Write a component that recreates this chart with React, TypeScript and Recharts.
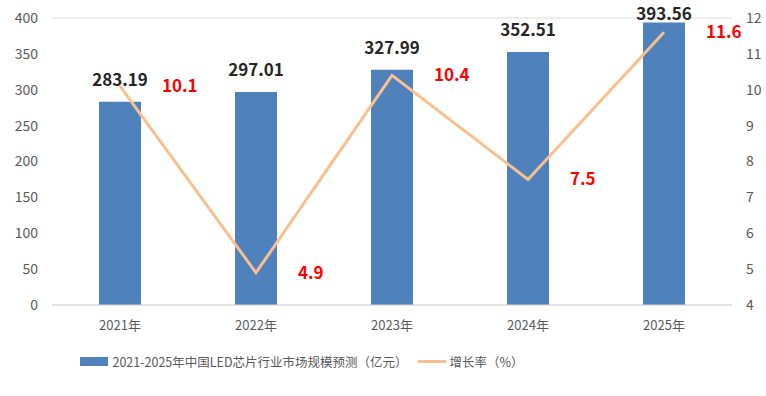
import React from 'react';
import { ComposedChart, Bar, Line, XAxis, YAxis, CartesianGrid, Legend, LabelList } from 'recharts';

const categories = ['2021年', '2022年', '2023年', '2024年', '2025年'];
const marketSize = [283.19, 297.01, 327.99, 352.51, 393.56];
const growthRate = [10.1, 4.9, 10.4, 7.5, 11.6];
const leftTicks = [0, 50, 100, 150, 200, 250, 300, 350, 400];
const rightTicks = [4, 5, 6, 7, 8, 9, 10, 11, 12];
const barName = '2021-2025年中国LED芯片行业市场规模预测（亿元）';
const lineName = '增长率（%）';

const data = categories.map((c, i) => ({ year: c, size: marketSize[i], rate: growthRate[i] }));

const FONT = '"Noto Sans CJK SC", "Liberation Sans", sans-serif';
const BAR_COLOR = '#4F81BD';
const LINE_COLOR = '#F9BF8F';

const RateLabel = (props: any) => {
  const { x, y, value } = props;
  return (
    <text x={x + 42} y={y} dy={6} textAnchor="start" fill="#FF0000" fontWeight="bold" fontSize={17} fontFamily={FONT}>
      {value}
    </text>
  );
};

const SizeLabel = (props: any) => {
  const { x, y, width, value } = props;
  return (
    <text x={x + width / 2} y={Math.max(y - 16, 20)} textAnchor="middle" fill="#262626" fontWeight="bold" fontSize={17} fontFamily={FONT}>
      {value.toFixed(2)}
    </text>
  );
};

const LegendContent = () => (
  <div style={{ display: 'flex', justifyContent: 'center', alignItems: 'center', fontFamily: FONT, fontSize: 12.5, color: '#595959' }}>
    <span style={{ display: 'inline-block', width: 28, height: 9, background: BAR_COLOR, marginRight: 4 }} />
    <span>{barName}</span>
    <span style={{ display: 'inline-block', width: 28, height: 3, background: LINE_COLOR, marginLeft: 10, marginRight: 4 }} />
    <span>{lineName}</span>
  </div>
);

export default function App() {
  return (
    <div style={{ position: 'absolute', left: 0, top: 0, width: 766, height: 396, background: '#fff' }}>
      <ComposedChart width={766} height={396} data={data} margin={{ top: 18, right: 0, bottom: 42, left: 0 }}>
        <CartesianGrid vertical={false} stroke="#D9D9D9" />
        <XAxis
          dataKey="year"
          axisLine={{ stroke: '#D9D9D9' }}
          tickLine={false}
          tick={{ fill: '#595959', fontSize: 13, fontFamily: FONT }}
          tickMargin={10}
          height={30}
        />
        <YAxis
          yAxisId="left"
          domain={[0, 400]}
          ticks={leftTicks}
          width={52}
          axisLine={false}
          tickLine={false}
          tick={{ fill: '#595959', fontSize: 14, fontFamily: FONT }}
          tickMargin={8}
        />
        <YAxis
          yAxisId="right"
          orientation="right"
          domain={[4, 12]}
          ticks={rightTicks}
          width={34}
          axisLine={false}
          tickLine={false}
          tick={{ fill: '#595959', fontSize: 14, fontFamily: FONT }}
          tickMargin={8}
        />
        <Legend verticalAlign="bottom" align="center" wrapperStyle={{ top: 352, left: 0, width: 604 }} content={LegendContent} />
        <Bar yAxisId="left" dataKey="size" name={barName} fill={BAR_COLOR} barSize={42} isAnimationActive={false}>
          <LabelList dataKey="size" content={SizeLabel} />
        </Bar>
        <Line
          yAxisId="right"
          type="linear"
          dataKey="rate"
          name={lineName}
          stroke={LINE_COLOR}
          strokeWidth={3}
          dot={false}
          activeDot={false}
          isAnimationActive={false}
        >
          <LabelList dataKey="rate" content={RateLabel} />
        </Line>
      </ComposedChart>
    </div>
  );
}
